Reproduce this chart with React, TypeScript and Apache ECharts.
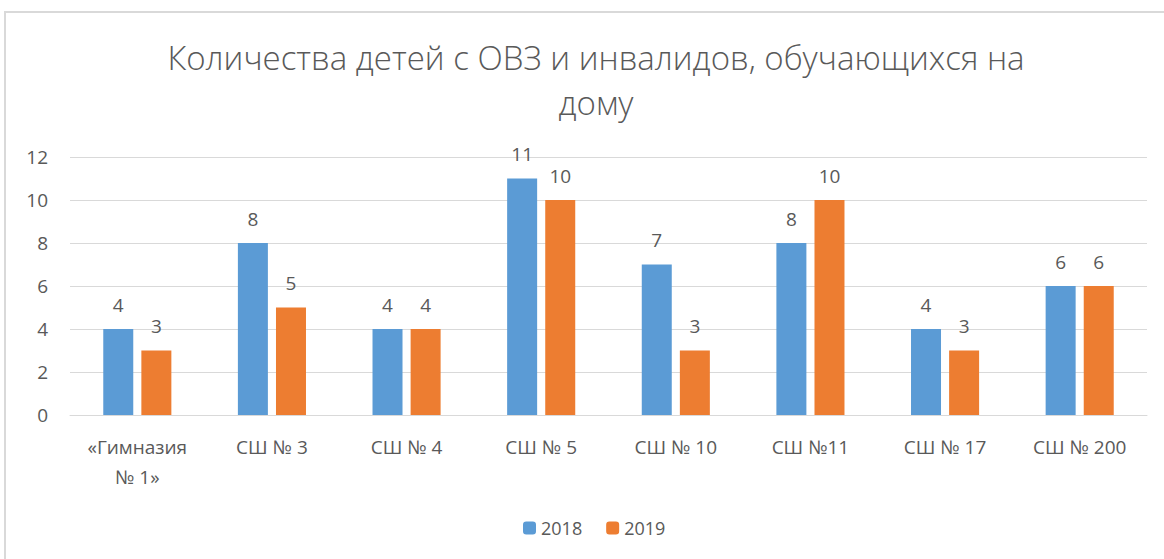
import React, { useEffect, useRef } from "react";
import * as echarts from "echarts";

const categories = ["«Гимназия\n№ 1»", "СШ № 3", "СШ № 4", "СШ № 5", "СШ № 10", "СШ №11", "СШ № 17", "СШ № 200"];
const values2018 = [4, 8, 4, 11, 7, 8, 4, 6];
const values2019 = [3, 5, 4, 10, 3, 10, 3, 6];
const yTicks = { min: 0, max: 12, interval: 2 };

const FONT = "'Open Sans', Lato, sans-serif";
const TXT = "#595959";

export default function App() {
  const ref = useRef<HTMLDivElement>(null);
  useEffect(() => {
    if (!ref.current) return;
    const chart = echarts.init(ref.current, undefined, { renderer: "svg" });
    const label = { show: true, position: "top", distance: 15, color: TXT, fontSize: 19, fontFamily: FONT };
    chart.setOption({
      animation: false,
      backgroundColor: "#ffffff",
      textStyle: { fontFamily: FONT },
      graphic: [
        { type: "rect", shape: { x: 5, y: 12, width: 1200, height: 600 }, style: { fill: "none", stroke: "#d9d9d9", lineWidth: 2 }, silent: true },
      ],
      title: {
        text: "Количества детей с ОВЗ и инвалидов, обучающихся на\nдому",
        left: 591,
        textAlign: "center",
        top: 30,
        textStyle: { color: TXT, fontSize: 33, fontWeight: 300, fontFamily: FONT, lineHeight: 45 },
      },
      legend: {
        bottom: 17,
        left: 518,
        itemWidth: 13,
        itemHeight: 13,
        itemGap: 24,
        textStyle: { color: TXT, fontSize: 18, fontFamily: FONT },
        data: ["2018", "2019"],
      },
      grid: { left: 70, right: 17, top: 157, bottom: 144, containLabel: false },
      xAxis: {
        type: "category",
        data: categories,
        axisLine: { show: true, lineStyle: { color: "#d9d9d9", width: 1 } },
        axisTick: { show: false },
        axisLabel: { color: TXT, fontSize: 19, fontFamily: FONT, margin: 17, lineHeight: 30, interval: 0 },
      },
      yAxis: {
        type: "value",
        ...yTicks,
        axisLine: { show: false },
        axisTick: { show: false },
        splitLine: { lineStyle: { color: "#d9d9d9", width: 1 } },
        axisLabel: { color: TXT, fontSize: 19, fontFamily: FONT, margin: 22 },
      },
      series: [
        { name: "2018", type: "bar", data: values2018, itemStyle: { color: "#5b9bd5" }, barWidth: 30, barGap: "27%", label },
        { name: "2019", type: "bar", data: values2019, itemStyle: { color: "#ed7d31" }, barWidth: 30, barGap: "27%", label },
      ],
    });
    return () => chart.dispose();
  }, []);
  return <div ref={ref} style={{ width: 1164, height: 559, position: "absolute", left: 0, top: 0 }} />;
}
